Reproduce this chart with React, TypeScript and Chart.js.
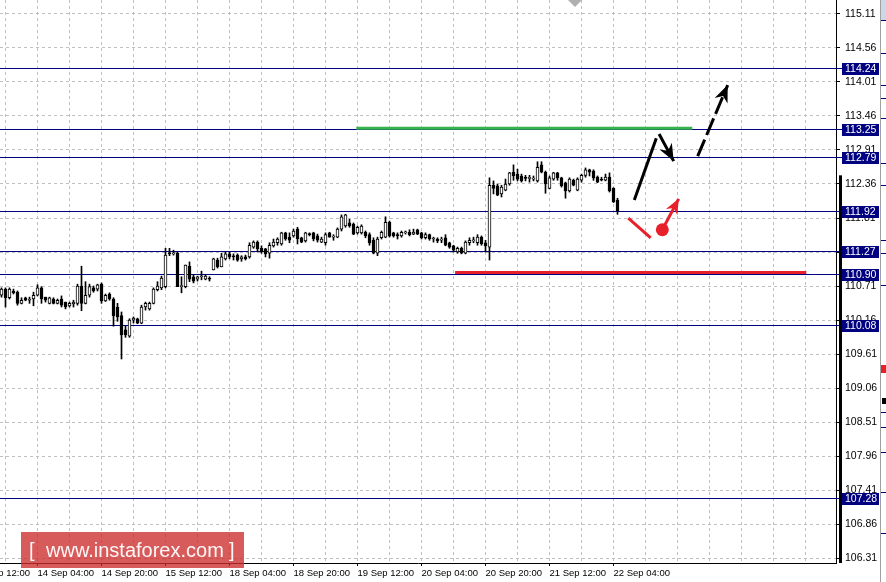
import React, { useEffect, useRef } from 'react';
import { Chart, registerables } from 'chart.js';

Chart.register(...registerables);

const FONT = 'Liberation Sans, Arial, sans-serif';

// H1 candles, bar 0 = 13 Sep 19:00
const opens = [
  110.56, 110.66, 110.52, 110.63, 110.61, 110.43, 110.52, 110.48, 110.50, 110.56,
  110.68, 110.53, 110.43, 110.50, 110.43, 110.50, 110.45, 110.39, 110.42, 110.43,
  110.71, 110.43, 110.56, 110.68, 110.66, 110.74, 110.47, 110.58, 110.50, 110.37,
  110.23, 110.00, 109.90, 110.16, 110.18, 110.11, 110.37, 110.34, 110.43, 110.65,
  110.68, 110.70, 111.24, 111.23, 111.24, 110.70, 110.70, 111.03, 110.86, 110.82,
  110.86, 110.82, 110.84, 110.97, 111.13, 111.02, 111.15, 111.23, 111.20, 111.21,
  111.15, 111.18, 111.18, 111.34, 111.42, 111.32, 111.31, 111.24, 111.36, 111.41,
  111.39, 111.57, 111.50, 111.52, 111.63, 111.49, 111.44, 111.55, 111.57, 111.52,
  111.42, 111.41, 111.57, 111.50, 111.50, 111.63, 111.68, 111.73, 111.71, 111.57,
  111.57, 111.58, 111.54, 111.45, 111.24, 111.49, 111.50, 111.74, 111.57, 111.54,
  111.52, 111.57, 111.58, 111.55, 111.62, 111.57, 111.49, 111.54, 111.47, 111.47,
  111.45, 111.49, 111.41, 111.36, 111.26, 111.32, 111.24, 111.41, 111.44, 111.41,
  111.50, 111.41, 111.34, 112.34, 112.33, 112.20, 112.26, 112.36, 112.55, 112.52,
  112.49, 112.46, 112.45, 112.44, 112.41, 112.67, 112.55, 112.29, 112.44, 112.54,
  112.46, 112.38, 112.25, 112.42, 112.26, 112.42, 112.50, 112.59, 112.57, 112.47,
  112.44, 112.42, 112.47, 112.29, 112.10,
];
const highs = [
  110.68, 110.68, 110.68, 110.66, 110.63, 110.52, 110.53, 110.53, 110.61, 110.73,
  110.70, 110.53, 110.53, 110.52, 110.50, 110.55, 110.45, 110.45, 110.48, 110.74,
  111.03, 110.78, 110.74, 110.71, 110.74, 110.76, 110.58, 110.60, 110.52, 110.43,
  110.29, 110.06, 110.18, 110.21, 110.19, 110.40, 110.45, 110.45, 110.68, 110.78,
  110.87, 111.32, 111.32, 111.29, 111.26, 110.86, 111.05, 111.10, 110.89, 110.87,
  110.95, 110.89, 110.86, 111.16, 111.16, 111.24, 111.26, 111.26, 111.23, 111.23,
  111.20, 111.21, 111.41, 111.44, 111.44, 111.36, 111.32, 111.41, 111.47, 111.49,
  111.58, 111.58, 111.57, 111.63, 111.66, 111.50, 111.58, 111.57, 111.58, 111.55,
  111.50, 111.57, 111.58, 111.54, 111.65, 111.86, 111.87, 111.79, 111.73, 111.68,
  111.70, 111.60, 111.57, 111.49, 111.50, 111.60, 111.83, 111.76, 111.58, 111.57,
  111.60, 111.60, 111.62, 111.63, 111.63, 111.58, 111.57, 111.55, 111.50, 111.49,
  111.50, 111.54, 111.42, 111.37, 111.34, 111.34, 111.44, 111.49, 111.50, 111.54,
  111.52, 111.45, 112.46, 112.41, 112.36, 112.34, 112.44, 112.55, 112.67, 112.60,
  112.52, 112.50, 112.50, 112.49, 112.72, 112.72, 112.57, 112.49, 112.55, 112.55,
  112.47, 112.39, 112.46, 112.44, 112.46, 112.52, 112.62, 112.60, 112.59, 112.49,
  112.47, 112.52, 112.54, 112.30, 112.13,
];
const lows = [
  110.53, 110.37, 110.50, 110.58, 110.40, 110.42, 110.47, 110.43, 110.39, 110.55,
  110.43, 110.45, 110.42, 110.42, 110.42, 110.37, 110.34, 110.37, 110.37, 110.40,
  110.31, 110.42, 110.53, 110.61, 110.63, 110.43, 110.46, 110.48, 110.06, 110.14,
  109.53, 109.88, 109.88, 110.11, 110.10, 110.10, 110.32, 110.32, 110.42, 110.63,
  110.65, 110.68, 111.20, 111.21, 110.70, 110.60, 110.68, 110.78, 110.76, 110.79,
  110.81, 110.81, 110.79, 110.97, 111.00, 111.02, 111.13, 111.15, 111.13, 111.11,
  111.11, 111.13, 111.16, 111.32, 111.26, 111.24, 111.18, 111.16, 111.34, 111.37,
  111.37, 111.45, 111.41, 111.50, 111.39, 111.41, 111.42, 111.52, 111.44, 111.42,
  111.41, 111.37, 111.50, 111.45, 111.49, 111.60, 111.66, 111.66, 111.54, 111.55,
  111.55, 111.49, 111.37, 111.23, 111.20, 111.47, 111.49, 111.50, 111.50, 111.47,
  111.50, 111.55, 111.52, 111.54, 111.54, 111.47, 111.47, 111.45, 111.42, 111.41,
  111.41, 111.36, 111.32, 111.26, 111.24, 111.23, 111.23, 111.37, 111.41, 111.37,
  111.37, 111.26, 111.13, 112.20, 112.17, 112.15, 112.25, 112.34, 112.42, 112.41,
  112.39, 112.41, 112.39, 112.41, 112.39, 112.54, 112.21, 112.28, 112.42, 112.42,
  112.31, 112.13, 112.23, 112.33, 112.25, 112.39, 112.47, 112.49, 112.42, 112.38,
  112.41, 112.41, 112.23, 112.06, 111.87,
];
const closes = [
  110.66, 110.52, 110.66, 110.60, 110.43, 110.48, 110.48, 110.49, 110.56, 110.68,
  110.50, 110.48, 110.52, 110.43, 110.48, 110.40, 110.37, 110.43, 110.45, 110.71,
  110.43, 110.56, 110.70, 110.63, 110.73, 110.47, 110.56, 110.50, 110.23, 110.21,
  109.92, 109.92, 110.16, 110.19, 110.11, 110.37, 110.43, 110.43, 110.66, 110.71,
  110.84, 111.21, 111.23, 111.24, 110.70, 110.71, 111.05, 110.82, 110.79, 110.86,
  110.86, 110.87, 110.82, 111.15, 111.02, 111.18, 111.23, 111.18, 111.18, 111.13,
  111.18, 111.15, 111.37, 111.42, 111.31, 111.26, 111.23, 111.37, 111.42, 111.47,
  111.57, 111.47, 111.45, 111.60, 111.47, 111.42, 111.57, 111.54, 111.47, 111.45,
  111.47, 111.54, 111.50, 111.51, 111.63, 111.83, 111.86, 111.68, 111.55, 111.66,
  111.68, 111.52, 111.41, 111.24, 111.47, 111.58, 111.74, 111.52, 111.52, 111.52,
  111.58, 111.58, 111.54, 111.58, 111.55, 111.49, 111.54, 111.47, 111.48, 111.44,
  111.47, 111.37, 111.34, 111.29, 111.32, 111.24, 111.42, 111.45, 111.45, 111.50,
  111.39, 111.36, 112.34, 112.29, 112.18, 112.31, 112.36, 112.54, 112.49, 112.44,
  112.41, 112.45, 112.46, 112.45, 112.63, 112.55, 112.36, 112.46, 112.54, 112.46,
  112.33, 112.25, 112.44, 112.34, 112.44, 112.50, 112.59, 112.55, 112.46, 112.39,
  112.42, 112.47, 112.25, 112.07, 111.92,
];

// axis
const xMin = -0.375;
const xMax = 208.625;
const yMin = 106.23;
const yMax = 115.336;
const xTickValues = [-7, 1, 9, 17, 25, 33, 41, 49, 57, 65, 73, 81, 89, 97, 105, 113, 121, 129, 137, 145, 153, 161, 169, 177, 185, 193, 201];
const xTickText = [
  '13 Sep 12:00', '', '14 Sep 04:00', '', '14 Sep 20:00', '', '15 Sep 12:00', '', '18 Sep 04:00', '',
  '18 Sep 20:00', '', '19 Sep 12:00', '', '20 Sep 04:00', '', '20 Sep 20:00', '', '21 Sep 12:00', '',
  '22 Sep 04:00', '', '', '', '', '', '',
];
const yTickValues = [115.11, 114.56, 114.01, 113.46, 112.91, 112.36, 111.81, 111.26, 110.71, 110.16, 109.61, 109.06, 108.51, 107.96, 107.41, 106.86, 106.31];

// horizontal levels
const levelPrices = [114.24, 113.25, 112.79, 111.92, 111.27, 110.9, 110.08, 107.28];

// annotations (bar index, price)
const greenBars = [88.7, 172.7];
const greenPrice = 113.26;
const redBars = [113.4, 201.2];
const redPrice = 110.93;
const upStrokeBars = [158.2, 163.7];
const upStrokePrices = [112.1, 113.1];
const downArrowBars = [164.4, 168.05];
const downArrowPrices = [113.17, 112.73];
const dashArrowBars = [174.05, 181.55];
const dashArrowPrices = [112.81, 113.96];
const redStrokeBars = [156.7, 162.3];
const redStrokePrices = [111.81, 111.49];
const redArrowBars = [165.2, 169.3];
const redArrowPrices = [111.62, 112.12];

const RED = '#e8202a';
const GREEN = '#35b44c';
const NAVY = '#000080';

function pts(bars: number[], prices: number[]) {
  return bars.map((b, k) => ({ x: b, y: prices[k] }));
}

function drawHead(ctx: CanvasRenderingContext2D, x1: number, y1: number, x2: number, y2: number, len: number, w: number, color: string) {
  const a = Math.atan2(y2 - y1, x2 - x1);
  const c = Math.cos(a), s = Math.sin(a);
  const bx = x2 - len * c, by = y2 - len * s;
  const nx = x2 - len * 0.7 * c, ny = y2 - len * 0.7 * s;
  ctx.fillStyle = color;
  ctx.beginPath();
  ctx.moveTo(x2, y2);
  ctx.lineTo(bx - w * s, by + w * c);
  ctx.lineTo(nx, ny);
  ctx.lineTo(bx + w * s, by - w * c);
  ctx.closePath();
  ctx.fill();
}

const extras = {
  id: 'mt4extras',
  beforeDatasetsDraw(chart: any) {
    const { ctx, scales, chartArea } = chart;
    const ys = scales.y;
    ctx.save();
    ctx.strokeStyle = NAVY;
    ctx.lineWidth = 1;
    levelPrices.forEach((p) => {
      const y = Math.round(ys.getPixelForValue(p)) + 0.5;
      ctx.beginPath();
      ctx.moveTo(chartArea.left, y);
      ctx.lineTo(chartArea.right + 6, y);
      ctx.stroke();
    });
    ctx.restore();
  },
  afterDatasetsDraw(chart: any) {
    const { ctx, scales } = chart;
    const xs = scales.x, ys = scales.y;
    const heads = [
      { b: downArrowBars, p: downArrowPrices, c: '#000', len: 17, w: 7 },
      { b: dashArrowBars, p: dashArrowPrices, c: '#000', len: 17, w: 7 },
      { b: redArrowBars, p: redArrowPrices, c: RED, len: 15, w: 6.5 },
    ];
    ctx.save();
    heads.forEach((h) => {
      const x1 = xs.getPixelForValue(h.b[0]), y1 = ys.getPixelForValue(h.p[0]);
      const x2 = xs.getPixelForValue(h.b[1]), y2 = ys.getPixelForValue(h.p[1]);
      drawHead(ctx, x1, y1, x2, y2, h.len, h.w, h.c);
    });
    ctx.restore();
  },
  afterDraw(chart: any) {
    const { ctx, scales, chartArea } = chart;
    const ys = scales.y;
    const right = chartArea.right;
    ctx.save();
    // black bar
    const yb = ys.getPixelForValue(112.5);
    ctx.fillStyle = '#000';
    ctx.fillRect(right + 3, yb, 3, chartArea.bottom - yb);
    // price boxes
    ctx.font = `10.5px ${FONT}`;
    ctx.textBaseline = 'middle';
    ctx.textAlign = 'left';
    levelPrices.forEach((p) => {
      const y = Math.round(ys.getPixelForValue(p));
      ctx.fillStyle = NAVY;
      ctx.fillRect(right + 6, y - 5, 37, 12);
      ctx.fillStyle = '#fff';
      ctx.fillText(p.toFixed(2), right + 9, y + 1);
    });
    // right side panel remnants
    ctx.fillStyle = '#a0a0a0';
    ctx.fillRect(880, 0, 1, 582);
    ctx.fillStyle = '#c9d9ea';
    ctx.fillRect(881, 0, 5, 20);
    ctx.fillStyle = NAVY;
    [20, 53, 85, 98, 118, 163, 185, 240, 253, 285, 412, 427, 452, 492, 533].forEach((y) => ctx.fillRect(881, y, 5, 1));
    ctx.fillStyle = '#e8202a';
    ctx.fillRect(881, 365, 5, 8);
    ctx.fillStyle = '#000';
    ctx.fillRect(882, 398, 4, 6);
    // chart shift marker
    ctx.fillStyle = '#b0b0b0';
    ctx.beginPath();
    ctx.moveTo(568, 0);
    ctx.lineTo(582, 0);
    ctx.lineTo(575, 7);
    ctx.closePath();
    ctx.fill();
    // watermark
    ctx.fillStyle = 'rgba(205,45,45,0.78)';
    ctx.fillRect(21, 532, 223, 36);
    ctx.fillStyle = 'rgba(255,255,255,0.95)';
    ctx.font = `20px ${FONT}`;
    ctx.textBaseline = 'middle';
    ctx.fillText('[', 29, 551);
    ctx.fillText('www.instaforex.com', 46, 551);
    ctx.fillText(']', 229, 551);
    ctx.restore();
  },
};

export default function App() {
  const ref = useRef<HTMLCanvasElement>(null);
  useEffect(() => {
    const idx = opens.map((_, i) => i);
    const chart = new Chart(ref.current as HTMLCanvasElement, {
      type: 'bar',
      data: {
        datasets: [
          // annotations
          { type: 'line', data: pts(greenBars, [greenPrice, greenPrice]), borderColor: GREEN, borderWidth: 3, pointRadius: 0, order: 0 } as any,
          { type: 'line', data: pts(redBars, [redPrice, redPrice]), borderColor: RED, borderWidth: 3, pointRadius: 0, order: 0 } as any,
          { type: 'line', data: pts(upStrokeBars, upStrokePrices), borderColor: '#000', borderWidth: 3, pointRadius: 0, order: 0 } as any,
          { type: 'line', data: pts(downArrowBars, downArrowPrices), borderColor: '#000', borderWidth: 3, pointRadius: 0, order: 0 } as any,
          { type: 'line', data: pts(dashArrowBars, dashArrowPrices), borderColor: '#000', borderWidth: 3, borderDash: [18, 5], pointRadius: 0, order: 0 } as any,
          { type: 'line', data: pts(redStrokeBars, redStrokePrices), borderColor: RED, borderWidth: 3, pointRadius: 0, order: 0 } as any,
          { type: 'line', data: pts(redArrowBars, redArrowPrices), borderColor: RED, borderWidth: 3, pointRadius: 0, order: 0 } as any,
          { type: 'line', data: [{ x: redArrowBars[0], y: redArrowPrices[0] }], showLine: false, pointRadius: 6.5, pointBackgroundColor: RED, pointBorderWidth: 0, borderColor: RED, order: 0 } as any,
          // candle bodies
          {
            type: 'bar',
            data: idx.map((i) => ({ x: i, y: [opens[i], closes[i]] })),
            backgroundColor: idx.map((i) => (closes[i] >= opens[i] ? '#ffffff' : '#000000')),
            borderColor: '#000000',
            borderWidth: 1,
            borderSkipped: false,
            barThickness: 3,
            minBarLength: 1,
            grouped: false,
            order: 1,
          } as any,
          // wicks
          {
            type: 'bar',
            data: idx.map((i) => ({ x: i, y: [lows[i], highs[i]] })),
            backgroundColor: '#000000',
            borderWidth: 0,
            barThickness: 1,
            grouped: false,
            order: 2,
          } as any,
        ],
      },
      options: {
        responsive: false,
        maintainAspectRatio: false,
        devicePixelRatio: 1,
        animation: false,
        layout: { padding: 0, autoPadding: false },
        plugins: { legend: { display: false }, tooltip: { enabled: false } },
        scales: {
          x: {
            type: 'linear',
            min: xMin,
            max: xMax,
            offset: false,
            position: 'bottom',
            grid: {
              offset: false,
              color: '#c0c0c0',
              lineWidth: 1,
              drawTicks: true,
              tickLength: 3,
              tickColor: (c: any) => (xTickText[c.index] ? '#000' : 'rgba(0,0,0,0)'),
            },
            border: { display: true, color: '#000', width: 1, dash: [3, 3] },
            ticks: {
              autoSkip: false,
              maxRotation: 0,
              minRotation: 0,
              align: 'start',
              padding: 2,
              color: '#000',
              font: { family: FONT, size: 9.5 },
              callback: (_v: any, i: number) => xTickText[i],
            },
            afterBuildTicks: (s: any) => {
              s.ticks = xTickValues.map((v) => ({ value: v }));
            },
            afterFit: (s: any) => {
              s.height = 19;
              s.paddingLeft = 0;
              s.paddingRight = 0;
            },
          } as any,
          y: {
            type: 'linear',
            position: 'right',
            min: yMin,
            max: yMax,
            beginAtZero: false,
            grid: { color: '#c0c0c0', lineWidth: 1, tickLength: 4, tickColor: '#000' },
            border: { display: true, color: '#000', width: 1, dash: [3, 3] },
            ticks: {
              padding: 5,
              color: '#000',
              font: { family: FONT, size: 10.5 },
              callback: (v: any) => Number(v).toFixed(2),
            },
            afterBuildTicks: (s: any) => {
              s.ticks = yTickValues.map((v) => ({ value: v }));
            },
            afterFit: (s: any) => {
              s.width = 50;
              s.paddingTop = 0;
              s.paddingBottom = 0;
            },
          } as any,
        },
      },
      plugins: [extras],
    });
    return () => chart.destroy();
  }, []);
  return (
    <div style={{ position: 'fixed', left: 0, top: 0, width: 886, height: 582, background: '#fff' }}>
      <canvas ref={ref} width={886} height={582} style={{ display: 'block' }} />
    </div>
  );
}
